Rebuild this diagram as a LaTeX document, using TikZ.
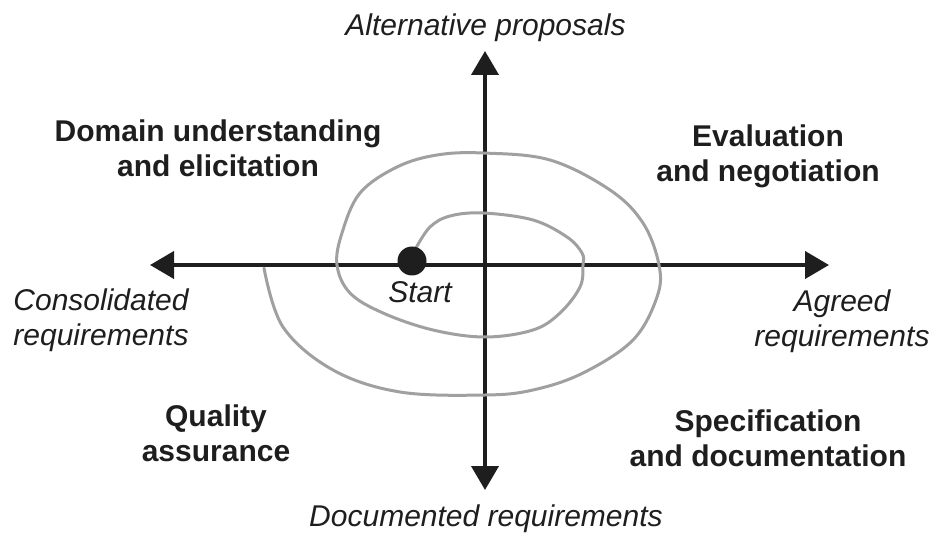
\documentclass[tikz,border=0pt]{standalone}
\usepackage{fontspec}
\setmainfont{Liberation Sans}
\usetikzlibrary{arrows.meta}
\definecolor{ink}{HTML}{1E1E1E}
\definecolor{spiralgray}{HTML}{A0A0A0}
\tikzset{
  axis/.style={line width=4pt, draw=ink, {Triangle[length=24pt,width=27pt]}-{Triangle[length=24pt,width=27pt]}},
  spiral/.style={line width=3pt, draw=spiralgray, line cap=round, line join=round},
  quad/.style={font=\fontsize{30}{35}\selectfont\bfseries, text=ink, align=center, inner sep=0pt},
  outcome/.style={font=\fontsize{30}{35}\selectfont\itshape, text=ink, align=center, inner sep=0pt},
}
\begin{document}
\begin{tikzpicture}[x=1pt,y=-1pt]
\useasboundingbox (0,0) rectangle (946,556);
% axis end points
\coordinate (W) at (150,265);
\coordinate (E) at (829,265);
\coordinate (N) at (485,51);
\coordinate (S) at (485,490);
\draw[axis] (W) -- (E);
\draw[axis] (S) -- (N);
% spiral
\draw[spiral] plot[smooth, tension=0.6] coordinates {
 (416,248) (430,227) (450,216) (483,213) (533,220) (567,237) (582,253) (583,265)
 (580,287) (560,313) (533,330) (485,337) (433,330) (383,313) (350,293) (337,265)
 (342,233) (360,193) (397,167) (437,155) (483,153) (550,160) (610,190) (643,223) (659,265)
 (657,297) (633,340) (583,373) (533,390) (485,395) (400,392) (333,370) (283,327) (264,268)};
% start dot
\fill[ink] (412,261) circle[radius=14.5pt];
\node[outcome, anchor=base] (start) at (420,302.5) {Start};
% outcome labels
\node[outcome, anchor=base] (alt) at (485.5,36) {Alternative proposals};
\node[outcome, anchor=base] (doc) at (486,526) {Documented requirements};
\node[outcome] (cons) at (101,320.5) {Consolidated\\requirements};
\node[outcome] (agr) at (842,321) {Agreed\\requirements};
% quadrant labels
\node[quad] (dom) at (218,148.5) {Domain understanding\\and elicitation};
\node[quad] (eval) at (768,156) {Evaluation\\and negotiation};
\node[quad] (qa) at (216,433) {Quality\\assurance};
\node[quad] (spec) at (768,438) {Specification\\and documentation};
\end{tikzpicture}
\end{document}
